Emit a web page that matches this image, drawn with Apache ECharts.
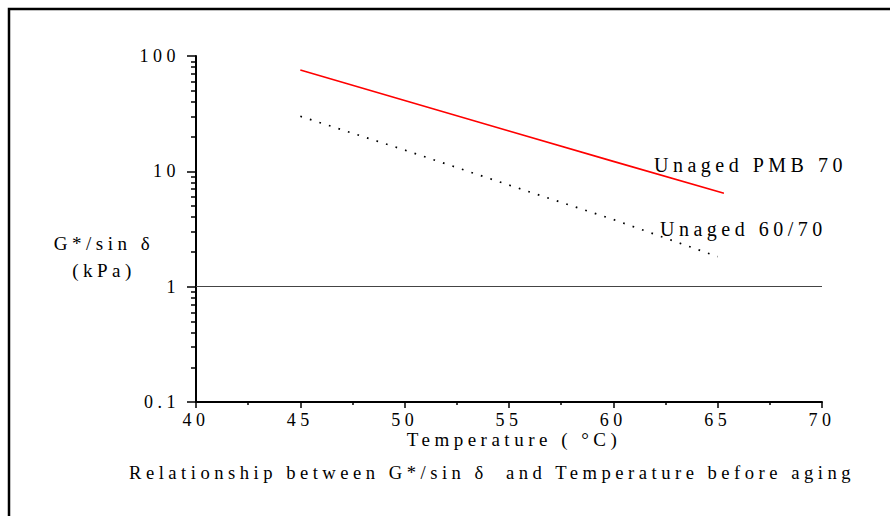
<!DOCTYPE html>
<html>
<head>
<meta charset="utf-8">
<script src="https://cdn.jsdelivr.net/npm/echarts@6/dist/echarts.min.js"></script>
<style>
  html, body { margin: 0; padding: 0; background: #fff; }
  #chart { width: 890px; height: 516px; }
  #chart text { letter-spacing: 4.5px; }
</style>
</head>
<body>
<div id="chart"></div>
<script>
// ---- data ----
const pmbTemp = [45, 50, 55, 60, 65.3];
const pmbG = [75.6, 41.2, 22.4, 12.2, 6.45];
const bitTemp = [45, 50, 55, 60, 65];
const bitG = [30.0, 15.3, 7.6, 3.82, 1.82];
const refLevel = 1;
const xMin = 40, xMax = 70, xStep = 5;
const yMin = 0.1, yMax = 100;
const yMinorTicks = [0.2,0.3,0.4,0.5,0.6,0.7,0.8,0.9,2,3,4,5,6,7,8,9,20,30,40,50,60,70,80,90];
const seriesNames = ['Unaged PMB 70', 'Unaged 60/70'];
const yTitle = 'G*/sin δ\n(kPa)';
const xTitle = 'Temperature ( °C)';
const chartTitle = 'Relationship between G*/sin δ  and Temperature before aging';

const FONT = '"Liberation Serif", "Times New Roman", serif';
const chart = echarts.init(document.getElementById('chart'), null, { renderer: 'svg' });

const option = {
  backgroundColor: '#fff',
  animation: false,
  textStyle: { fontFamily: FONT },
  grid: { left: 196, right: 68, top: 56, bottom: 114 },
  xAxis: {
    type: 'value', min: xMin, max: xMax, interval: xStep,
    name: xTitle, nameLocation: 'middle', nameGap: 28, nameMoveOverlap: false,
    nameTextStyle: { fontFamily: FONT, fontSize: 19, color: '#000', padding: [0, 0, 0, 10] },
    axisLine: { show: true, lineStyle: { color: '#000', width: 2 } },
    axisTick: { show: true, length: 6, lineStyle: { color: '#000', width: 1.5 } },
    minorTick: { show: true, splitNumber: 2, length: 3, lineStyle: { color: '#000', width: 1.5 } },
    axisLabel: { fontFamily: FONT, fontSize: 18, color: '#000', margin: 9 },
    splitLine: { show: false }
  },
  yAxis: [{
    type: 'log', logBase: 10, min: yMin, max: yMax,
    axisLine: { show: true, lineStyle: { color: '#000', width: 2 } },
    axisTick: { show: true, length: 9, lineStyle: { color: '#000', width: 1.5 } },
    axisLabel: { fontFamily: FONT, fontSize: 18, color: '#000', margin: 16 },
    splitLine: { show: false }
  }, {
    type: 'log', logBase: 10, min: yMin, max: yMax, position: 'left', offset: 0,
    axisLine: { show: false },
    axisTick: { show: true, length: 5, customValues: yMinorTicks, lineStyle: { color: '#000', width: 1.5 } },
    axisLabel: { show: false },
    splitLine: { show: false }
  }],
  series: [{
    name: seriesNames[0], type: 'line', yAxisIndex: 0,
    data: pmbTemp.map((t, i) => [t, pmbG[i]]),
    symbol: 'none', lineStyle: { color: '#ff0000', width: 1.6 },
    markLine: {
      silent: true, symbol: 'none', label: { show: false },
      lineStyle: { color: '#444', width: 1, type: 'solid' },
      data: [{ yAxis: refLevel }]
    }
  }, {
    name: seriesNames[1], type: 'line', yAxisIndex: 0,
    data: bitTemp.map((t, i) => [t, bitG[i]]),
    symbol: 'none', lineStyle: { color: '#000', width: 1.7, type: [1.7, 8.3] }
  }],
  graphic: [
    { type: 'rect', shape: { x: 9, y: 9, width: 1000, height: 700 }, style: { fill: 'none', stroke: '#000', lineWidth: 2.5 }, silent: true },
    { type: 'text', x: 104, y: 257, style: { text: yTitle, fontFamily: FONT, fontSize: 19, fill: '#000', textAlign: 'center', textVerticalAlign: 'middle', lineHeight: 27 } },
    { type: 'text', x: 654, y: 165, style: { text: seriesNames[0], fontFamily: FONT, fontSize: 20, fill: '#000', textAlign: 'left', textVerticalAlign: 'middle' } },
    { type: 'text', x: 660, y: 229, style: { text: seriesNames[1], fontFamily: FONT, fontSize: 20, fill: '#000', textAlign: 'left', textVerticalAlign: 'middle' } },
    { type: 'text', x: 492, y: 472, style: { text: chartTitle, fontFamily: FONT, fontSize: 18.6, fill: '#000', textAlign: 'center', textVerticalAlign: 'middle' } }
  ]
};
chart.setOption(option);
</script>
</body>
</html>
